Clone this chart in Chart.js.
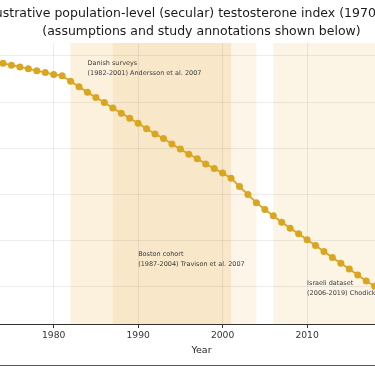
<!DOCTYPE html>
<html>
<head>
<meta charset="utf-8">
<script src="https://cdn.jsdelivr.net/npm/chart.js@4.4.1/dist/chart.umd.min.js"></script>
<style>
    html, body { margin: 0; padding: 0; background: #fff; overflow: hidden; width: 375px; height: 366px; }
    /* the figure is wider than the window: only a crop of it shows, as in the reference */
    #wrap { position: absolute; top: 0; left: -100px; width: 600px; height: 366px; }
    #edge { position: absolute; left: 0; bottom: 0; width: 375px; height: 1px; background: #555; }
</style>
</head>
<body>
<div id="wrap"><canvas id="chart"></canvas></div>
<div id="edge"></div>
<script>
// Years and the illustrative index (1970 = 100)
const years = [
    1970, 1971, 1972, 1973, 1974, 1975, 1976, 1977, 1978, 1979,
    1980, 1981, 1982, 1983, 1984, 1985, 1986, 1987, 1988, 1989,
    1990, 1991, 1992, 1993, 1994, 1995, 1996, 1997, 1998, 1999,
    2000, 2001, 2002, 2003, 2004, 2005, 2006, 2007, 2008, 2009,
    2010, 2011, 2012, 2013, 2014, 2015, 2016, 2017, 2018, 2019,
    2020
];
const indexValues = [
    100.0, 99.8, 99.6, 99.4, 99.2, 99.0, 98.8, 98.6, 98.4, 98.2,
    98.0, 97.85, 97.25, 96.65, 96.05, 95.5, 94.95, 94.35, 93.8, 93.25,
    92.7, 92.1, 91.55, 91.05, 90.45, 89.9, 89.35, 88.85, 88.3, 87.8,
    87.3, 86.75, 85.85, 84.98, 84.1, 83.35, 82.68, 81.98, 81.33, 80.72,
    80.07, 79.45, 78.8, 78.15, 77.54, 76.9, 76.27, 75.62, 75.05, 74.45,
    73.8
];

// Study periods shown as shaded spans
const studyNames = ['Danish surveys', 'Boston cohort', 'Israeli dataset'];
const studyRefs = ['Andersson et al. 2007', 'Travison et al. 2007', 'Chodick et al. 2020'];
const studyStart = [1982, 1987, 2006];
const studyEnd = [2001, 2004, 2019];
const noteYear = [1984, 1990, 2010];
const noteValue = [99.2, 78.5, 75.4];

const yTicks = [75, 80, 85, 90, 95, 100];
const xTicks = [1970, 1980, 1990, 2000, 2010, 2020];

const LINE_COLOR = '#daa520';
const BAND_COLORS = ['rgba(230,160,30,0.15)', 'rgba(230,160,30,0.10)', 'rgba(230,160,30,0.11)'];
const FONT = 'DejaVu Sans';

/**
 * Shaded study spans (behind everything) and their notes (on top)
 */
const studyPlugin = {
    id: 'studies',
    beforeDraw(chart) {
        const { ctx, chartArea, scales: { x } } = chart;
        ctx.save();
        ctx.beginPath();
        ctx.rect(chartArea.left, chartArea.top, chartArea.width, chartArea.height);
        ctx.clip();
        studyStart.forEach((start, i) => {
            const x0 = x.getPixelForValue(start);
            const x1 = x.getPixelForValue(studyEnd[i]);
            ctx.fillStyle = BAND_COLORS[i];
            ctx.fillRect(x0, chartArea.top, x1 - x0, chartArea.height);
        });
        ctx.restore();
    },
    afterDraw(chart) {
        const { ctx, scales: { x, y } } = chart;
        ctx.save();
        ctx.font = `6.5px "${FONT}"`;
        ctx.fillStyle = '#3a3a3a';
        ctx.textBaseline = 'middle';
        ctx.textAlign = 'left';
        studyNames.forEach((name, i) => {
            const px = x.getPixelForValue(noteYear[i]);
            const py = y.getPixelForValue(noteValue[i]);
            ctx.fillText(name, px, py);
            ctx.fillText(`(${studyStart[i]}-${studyEnd[i]}) ${studyRefs[i]}`, px, py + 10);
        });
        ctx.restore();
    }
};

const ctx = document.getElementById('chart').getContext('2d');

new Chart(ctx, {
    type: 'line',
    data: {
        datasets: [{
            label: 'Testosterone index',
            data: years.map((yr, i) => ({ x: yr, y: indexValues[i] })),
            borderColor: LINE_COLOR,
            backgroundColor: LINE_COLOR,
            borderWidth: 1.8,
            pointRadius: 3.5,
            pointBorderWidth: 0,
            pointBackgroundColor: LINE_COLOR,
            tension: 0
        }]
    },
    options: {
        responsive: true,
        maintainAspectRatio: false,
        animation: false,
        layout: { padding: { left: 0, right: 43, top: 0, bottom: 0 } },
        plugins: {
            legend: { display: false },
            tooltip: { enabled: false },
            title: {
                display: true,
                fullSize: false,
                text: [
                    'Illustrative population-level (secular) testosterone index (1970\u20132020)',
                    '(assumptions and study annotations shown below)'
                ],
                color: '#1a1a1a',
                font: { family: FONT, size: 12.5, weight: 'normal', lineHeight: 1.4 },
                padding: { top: 5, bottom: 3 }
            }
        },
        scales: {
            x: {
                type: 'linear',
                min: 1967.25,
                max: 2027.75,
                afterFit(scale) { scale.height = 42; },
                afterBuildTicks(scale) { scale.ticks = xTicks.map(v => ({ value: v })); },
                ticks: {
                    color: '#333',
                    padding: 2,
                    font: { family: FONT, size: 9.2 },
                    callback: v => String(v)
                },
                grid: {
                    color: 'rgba(0,0,0,0.07)',
                    tickColor: '#333',
                    tickLength: 4
                },
                border: { display: true, color: '#333', width: 1 },
                title: {
                    display: true,
                    text: 'Year',
                    color: '#222',
                    font: { family: FONT, size: 9.5 },
                    padding: { top: 0, bottom: 10 }
                }
            },
            y: {
                min: 70.95,
                max: 101.4,
                afterFit(scale) { scale.width = 46; },
                afterBuildTicks(scale) { scale.ticks = yTicks.map(v => ({ value: v })); },
                ticks: {
                    color: '#333',
                    font: { family: FONT, size: 9.2 }
                },
                grid: {
                    color: 'rgba(0,0,0,0.07)',
                    drawTicks: false
                },
                border: { display: false }
            }
        }
    },
    plugins: [studyPlugin]
});
</script>
</body>
</html>
